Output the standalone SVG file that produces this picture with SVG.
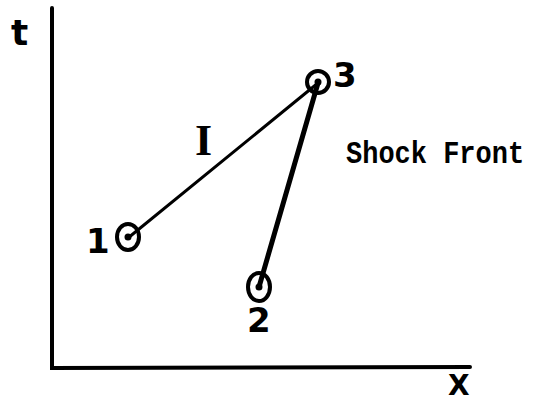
<svg xmlns="http://www.w3.org/2000/svg" width="534" height="402" viewBox="0 0 534 402">
<style>
.axis{stroke:#000;stroke-width:4;fill:none;stroke-linecap:round}
.node{fill:none;stroke:#000;stroke-width:4}
.dot{fill:#000}
.lbl{font-family:"DejaVu Sans","Liberation Sans",sans-serif;font-weight:bold;fill:#000}
.mono{font-family:"Liberation Mono","Courier New",monospace;font-weight:bold;fill:#000}
</style>
<rect width="534" height="402" fill="#fff"/>
<g id="axes">
<path class="axis" d="M52,8 L52,368 L470,367"/>
<text class="lbl" x="11" y="45" font-size="36">t</text>
<text class="lbl" x="448" y="395" font-size="28">X</text>
</g>
<g id="connectors" stroke="#000" stroke-linecap="round">
<line x1="128" y1="238" x2="318" y2="83" stroke-width="3"/>
<line x1="259" y1="287" x2="318" y2="83" stroke-width="5"/>
</g>
<g id="node1">
<ellipse class="node" cx="128" cy="237" rx="11" ry="13"/>
<circle class="dot" cx="128" cy="237" r="3.5"/>
<text class="lbl" x="86" y="253" font-size="34">1</text>
</g>
<g id="node2">
<ellipse class="node" cx="259" cy="287" rx="11" ry="14"/>
<circle class="dot" cx="259" cy="287" r="3.5"/>
<text class="lbl" x="247" y="332" font-size="34">2</text>
</g>
<g id="node3">
<ellipse class="node" cx="318" cy="82" rx="11" ry="11"/>
<circle class="dot" cx="318" cy="82" r="3.5"/>
<text class="lbl" x="333" y="87" font-size="34">3</text>
</g>
<g id="label-I">
<text x="195" y="155" font-family="Liberation Serif,serif" font-weight="bold" font-size="44">I</text>
</g>
<g id="shock-front">
<text class="mono" transform="translate(346,163) scale(1,1.15)" x="0" y="0" font-size="27">Shock Front</text>
</g>
</svg>
